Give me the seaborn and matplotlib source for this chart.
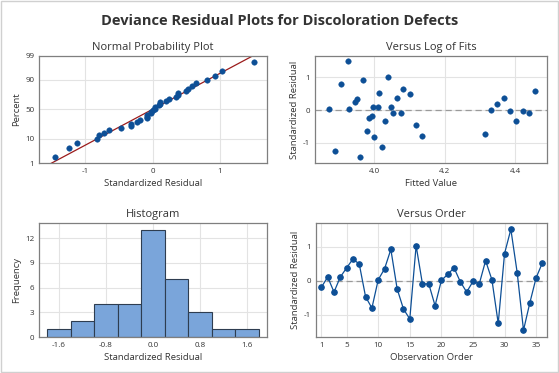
import numpy as np
import pandas as pd
import matplotlib
matplotlib.use("Agg")
import matplotlib.pyplot as plt
import seaborn as sns
from statistics import NormalDist

# ---- data ----
observation = list(range(1, 37))
residuals = [-0.19, 0.11, -0.33, 0.11, 0.38, 0.64, 0.49, -0.47, -0.80, 0.03,
             0.35, 0.92, -0.24, -0.83, -1.12, 1.03, -0.09, -0.09, -0.73, 0.01,
             0.19, 0.38, -0.03, -0.33, -0.02, -0.09, 0.59, 0.03, -1.25, 0.80,
             1.51, 0.24, -1.45, -0.65, 0.09, 0.53]
fitted = [3.994, 3.997, 4.031, 4.048, 4.065, 4.082, 4.102, 4.119, 4.136, 3.929,
          3.949, 3.966, 3.983, 4.000, 4.020, 4.037, 4.054, 4.074, 4.314, 4.330,
          4.347, 4.367, 4.384, 4.401, 4.422, 4.438, 4.455, 3.872, 3.889, 3.906,
          3.926, 3.944, 3.960, 3.980, 4.010, 4.014]
prob_ticks = [1, 10, 50, 90, 99]
hist_bins = [-1.8, -1.4, -1.0, -0.6, -0.2, 0.2, 0.6, 1.0, 1.4, 1.8]
hist_ticks = [-1.6, -0.8, 0.0, 0.8, 1.6]
freq_ticks = [0, 3, 6, 9, 12]
fit_ticks = [4.0, 4.2, 4.4]
order_ticks = [1, 5, 10, 15, 20, 25, 30, 35]
resid_ticks = [-1, 0, 1]

df = pd.DataFrame({"obs": observation, "resid": residuals, "fit": fitted})

sns.set_style("white")
plt.rcParams["font.family"] = ["Open Sans", "DejaVu Sans"]

BLUE = "#0d4f96"
FRAME = "#7f7f7f"
GRID = "#e3e3e3"
TXT = "#333333"

fig = plt.figure(figsize=(5.59, 3.73), dpi=100)
fig.patch.set_facecolor("white")
fig.add_artist(plt.Rectangle((0.002, 0.003), 0.996, 0.994, transform=fig.transFigure,
                             fill=False, edgecolor="#d0d0d0", linewidth=1.0))

fig.text(0.5, 0.945, "Deviance Residual Plots for Discoloration Defects",
         ha="center", va="center", fontsize=10.5, fontweight="bold", color=TXT)

ax1 = fig.add_axes([0.0698, 0.563, 0.408, 0.287])
ax2 = fig.add_axes([0.5635, 0.563, 0.415, 0.287])
ax3 = fig.add_axes([0.0698, 0.0965, 0.408, 0.306])
ax4 = fig.add_axes([0.5653, 0.0965, 0.413, 0.306])


def style(ax):
    for s in ax.spines.values():
        s.set_color(FRAME)
        s.set_linewidth(0.9)
    ax.grid(True, color=GRID, linewidth=0.8)
    ax.set_axisbelow(True)
    ax.tick_params(axis="both", labelsize=5.8, colors=TXT, length=2, width=0.6,
                   direction="out", pad=1.5)
    ax.tick_params(axis="both", colors=FRAME, labelcolor=TXT)


# ---- Normal probability plot ----
n = len(residuals)
nd = NormalDist()
sorted_r = np.sort(np.array(residuals))
pct = [(i - 0.3) / (n + 0.4) for i in range(1, n + 1)]
zvals = [nd.inv_cdf(p) for p in pct]
npdf = pd.DataFrame({"x": sorted_r, "z": zvals})
mu = float(np.mean(residuals))
sd = float(np.std(residuals, ddof=1))
zlo, zhi = nd.inv_cdf(0.01), nd.inv_cdf(0.99)
linedf = pd.DataFrame({"x": [mu + sd * zlo * 1.02, mu + sd * zhi * 1.02],
                       "z": [zlo * 1.02, zhi * 1.02]})
sns.lineplot(data=linedf, x="x", y="z", ax=ax1, color="#9b1b1b", linewidth=0.9)
sns.scatterplot(data=npdf, x="x", y="z", ax=ax1, color=BLUE, s=16,
                edgecolor=BLUE, linewidth=0.3, zorder=3)
ax1.set_ylim(zlo, zhi)
ax1.set_xlim(-1.69, 1.70)
ax1.set_yticks([nd.inv_cdf(p / 100) for p in prob_ticks])
ax1.set_yticklabels([str(p) for p in prob_ticks])
ax1.set_xticks([-1, 0, 1])
ax1.set_xticklabels(["-1", "0", "1"])
ax1.set_title("Normal Probability Plot", fontsize=8, color=TXT, pad=4)
ax1.set_xlabel("Standardized Residual", fontsize=6.8, color=TXT, labelpad=3)
ax1.set_ylabel("Percent", fontsize=6.8, color=TXT, labelpad=3)
style(ax1)

# ---- Versus fits ----
ax2.axhline(0, color="#9a9a9a", linestyle=(0, (5, 3)), linewidth=0.9, zorder=1)
sns.scatterplot(data=df, x="fit", y="resid", ax=ax2, color=BLUE, s=16,
                edgecolor=BLUE, linewidth=0.3, zorder=3)
ax2.set_xlim(3.831, 4.49)
ax2.set_ylim(-1.62, 1.66)
ax2.set_xticks(fit_ticks)
ax2.set_xticklabels([f"{t:.1f}" for t in fit_ticks])
ax2.set_yticks(resid_ticks)
ax2.set_yticklabels(["-1", "0", "1"])
ax2.set_title("Versus Log of Fits", fontsize=8, color=TXT, pad=4)
ax2.set_xlabel("Fitted Value", fontsize=6.8, color=TXT, labelpad=3)
ax2.set_ylabel("Standardized Residual", fontsize=6.8, color=TXT, labelpad=3)
style(ax2)

# ---- Histogram ----
sns.histplot(data=df, x="resid", bins=hist_bins, ax=ax3, color="#7aa5da",
             edgecolor="#2e3d50", linewidth=0.8, alpha=1.0, zorder=2)
ax3.set_xlim(-1.94, 1.94)
ax3.set_ylim(0, 13.84)
ax3.set_xticks(hist_ticks)
ax3.set_xticklabels([f"{t:.1f}" for t in hist_ticks])
ax3.set_yticks(freq_ticks)
ax3.set_title("Histogram", fontsize=8, color=TXT, pad=4)
ax3.set_xlabel("Standardized Residual", fontsize=6.8, color=TXT, labelpad=3)
ax3.set_ylabel("Frequency", fontsize=6.8, color=TXT, labelpad=3)
style(ax3)

# ---- Versus order ----
ax4.axhline(0, color="#9a9a9a", linestyle=(0, (5, 3)), linewidth=0.9, zorder=1)
sns.lineplot(data=df, x="obs", y="resid", ax=ax4, color=BLUE, linewidth=0.9,
             marker="o", markersize=4, markeredgecolor=BLUE, zorder=3)
ax4.set_xlim(0.15, 36.7)
ax4.set_ylim(-1.65, 1.70)
ax4.set_xticks(order_ticks)
ax4.set_xticklabels([str(t) for t in order_ticks])
ax4.set_yticks(resid_ticks)
ax4.set_yticklabels(["-1", "0", "1"])
ax4.set_title("Versus Order", fontsize=8, color=TXT, pad=4)
ax4.set_xlabel("Observation Order", fontsize=6.8, color=TXT, labelpad=3)
ax4.set_ylabel("Standardized Residual", fontsize=6.8, color=TXT, labelpad=3)
style(ax4)

fig.savefig("out.png", dpi=100, facecolor="white")
